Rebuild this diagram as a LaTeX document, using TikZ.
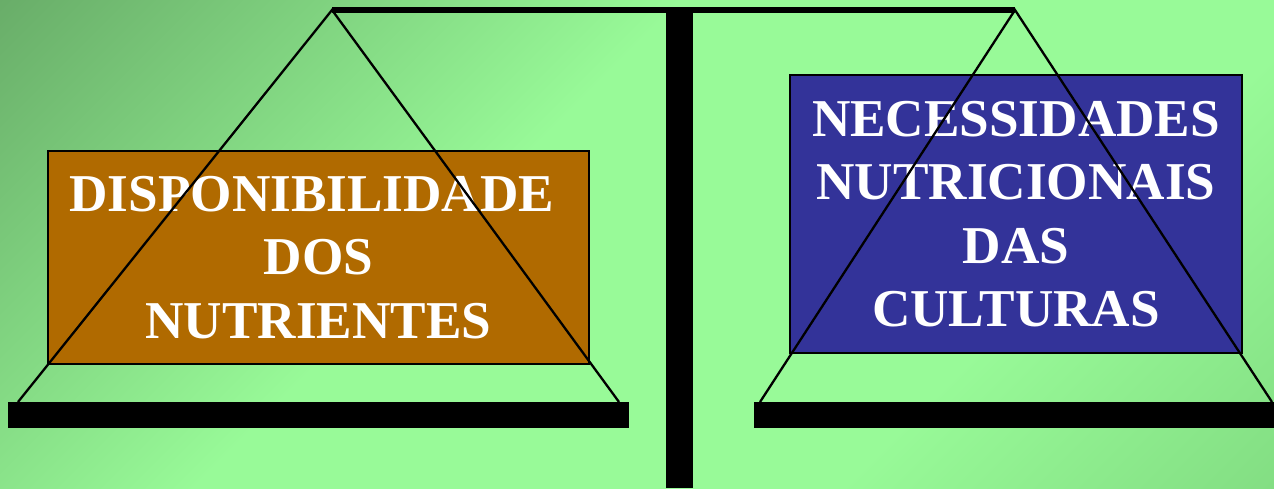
\documentclass[tikz,border=0pt]{standalone}
\usepackage{fontspec}
\setmainfont{Liberation Serif}
\definecolor{bgdark}{RGB}{104,172,104}
\definecolor{bglight}{RGB}{152,250,152}
\definecolor{bgbr}{RGB}{128,218,128}
\definecolor{boxbrown}{RGB}{176,106,0}
\definecolor{boxblue}{RGB}{51,51,153}
\pgfdeclarehorizontalshading{bgshade}{100bp}{color(0bp)=(bgdark); color(14bp)=(bgdark); color(42bp)=(bglight); color(68bp)=(bglight); color(88bp)=(bgbr); color(100bp)=(bgbr)}
\tikzset{
  panel/.style={draw=black, line width=2.5pt, inner sep=0pt, align=center, text=white,
    font=\fontsize{53.2}{63.5}\selectfont\bfseries},
  hanger/.style={draw=black, line width=2.3pt, line join=miter},
  barfill/.style={fill=black}
}
\begin{document}
\begin{tikzpicture}[x=1pt,y=-1pt]
\useasboundingbox (0,0) rectangle (1274,488);
\shade[shading=bgshade, shading angle=-45] (0,0) rectangle (1274,488);
% post and beam
\coordinate (postTL) at (666,7);
\coordinate (postBR) at (693,488);
\fill[barfill] (postTL) rectangle (postBR);
\coordinate (LA) at (332,10);
\coordinate (RA) at (1015,10);
\draw[line width=5.5pt] (LA) -- (RA);
% pans
\coordinate (LpanTL) at (8,402);
\coordinate (LpanBR) at (629,428);
\coordinate (RpanTL) at (754,402);
\coordinate (RpanBR) at (1280,428);
\fill[barfill] (LpanTL) rectangle (LpanBR);
\fill[barfill] (RpanTL) rectangle (RpanBR);
% boxes
\node[panel, fill=boxbrown, minimum width=541pt, minimum height=213pt] (L) at (318.5,257.5)
  {DISPONIBILIDADE\hspace*{0.25em}\\DOS\\NUTRIENTES};
\node[panel, fill=boxblue, minimum width=452pt, minimum height=278pt] (R) at (1016,214)
  {NECESSIDADES\\NUTRICIONAIS\\DAS\\CULTURAS};
% hanging strings
\coordinate (LB1) at (18,402);
\coordinate (LB2) at (619,402);
\coordinate (RB1) at (760,402);
\coordinate (RB2) at (1272,402);
\draw[hanger] (LB1) -- (LA) -- (LB2);
\draw[hanger] (RB1) -- (RA) -- (RB2);
\end{tikzpicture}
\end{document}
